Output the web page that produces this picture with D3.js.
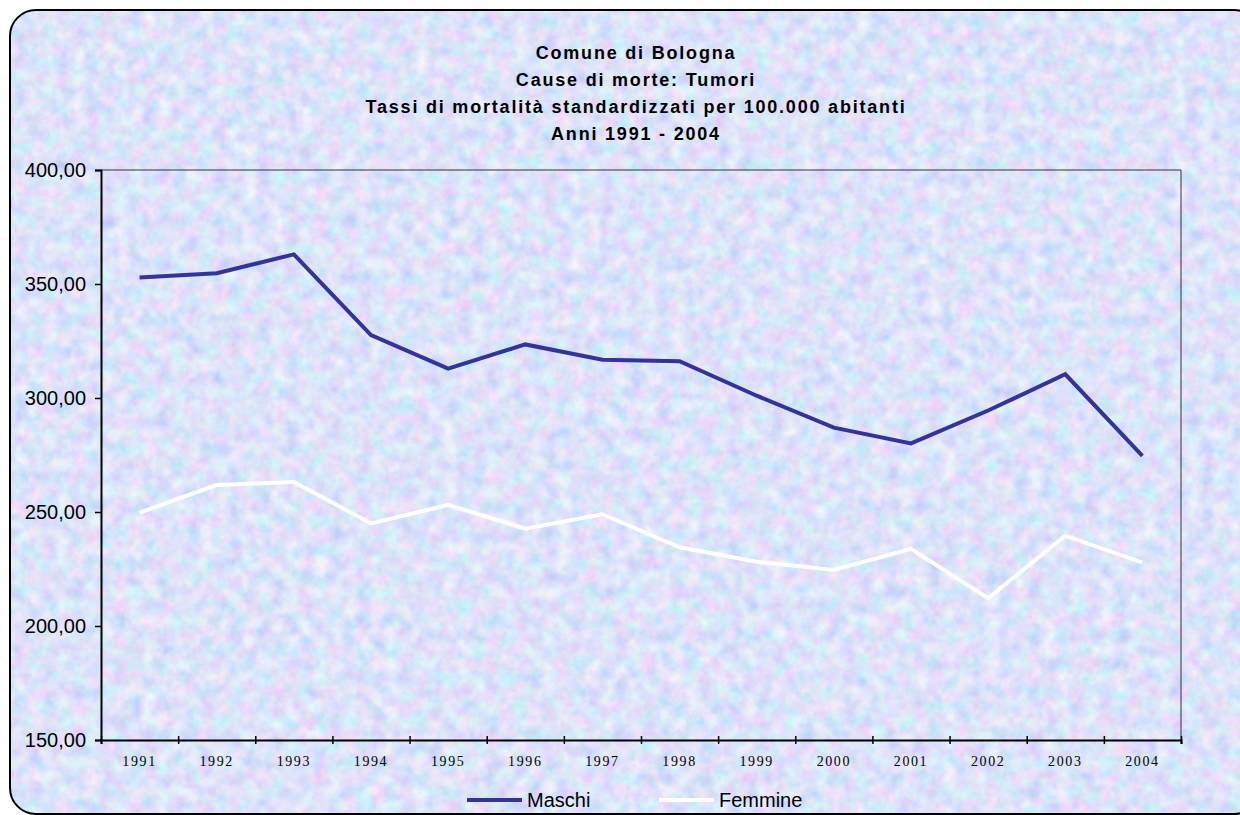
<!DOCTYPE html>
<html>
<head>
<meta charset="utf-8">
<script src="https://cdn.jsdelivr.net/npm/d3@7"></script>
<style>
  body { margin: 0; background: #ffffff; }
  .title { font-family: "Liberation Sans", Arial, sans-serif; font-weight: bold; font-size: 18px; fill: #000; letter-spacing: 1.8px; }
  .yAxis text { font-family: "Liberation Sans", Arial, sans-serif; font-size: 20px; fill: #000; }
  .xLabel { font-family: "Liberation Serif", "Times New Roman", serif; font-size: 14px; fill: #000; letter-spacing: 1.6px; }
  .legendText { font-family: "Liberation Sans", Arial, sans-serif; font-size: 20px; fill: #000; }
</style>
</head>
<body>
<script>
/* Chart data */
var years = ["1991", "1992", "1993", "1994", "1995", "1996", "1997",
             "1998", "1999", "2000", "2001", "2002", "2003", "2004"]
var maschi = [352.9, 354.7, 363.0, 327.6, 312.9, 323.5, 316.8,
              316.1, 301.0, 287.0, 280.1, 294.5, 310.4, 274.6]
var femmine = [249.7, 261.8, 263.2, 245.0, 253.1, 242.7, 249.0,
               234.5, 228.2, 224.6, 233.8, 212.2, 239.6, 227.8]
var seriesNames = ["Maschi", "Femmine"]
var seriesColors = ["#333399", "#ffffff"]
var yTicks = [150, 200, 250, 300, 350, 400]
var titleLines = ["Comune di Bologna",
                  "Cause di morte: Tumori",
                  "Tassi di mortalità standardizzati per 100.000 abitanti",
                  "Anni 1991 - 2004"]


function main()
{
  var vis = {
    width: 1240,
    height: 815,
    plot: {left: 101, right: 1181, top: 170, bottom: 740},
    scale: {}
  }

  var svg = d3.select("body")
    .append("svg")
    .attr("id", "chart")
    .attr("width", vis.width)
    .attr("height", vis.height)

  addBackground(vis, svg)
  initScales(vis)
  addTitle(vis, svg)
  addAxes(vis, svg)
  addLines(vis, svg)
  addLegend(vis, svg)
}


/* Marbled pastel paper texture inside a rounded frame */
function addBackground(vis, svg)
{
  var defs = svg.append("defs")

  var filter = defs.append("filter")
    .attr("id", "marble")
    .attr("x", 0).attr("y", 0)
    .attr("width", "100%").attr("height", "100%")
    .attr("filterUnits", "userSpaceOnUse")

  filter.append("feTurbulence")
    .attr("type", "fractalNoise")
    .attr("baseFrequency", 0.07)
    .attr("numOctaves", 3)
    .attr("seed", 7)
    .attr("result", "noise")

  // map the noise channels onto periwinkle / pink / pale cyan tints
  filter.append("feColorMatrix")
    .attr("in", "noise")
    .attr("type", "matrix")
    .attr("values",
          "0.62 0 0 0 0.41 " +
          "0.05 0.45 0 0 0.52 " +
          "0 0 0.12 0 0.89 " +
          "0 0 0 0 1")

  defs.append("clipPath")
    .attr("id", "frameClip")
    .append("rect")
    .attr("x", 10).attr("y", 10)
    .attr("width", 1250).attr("height", 804)
    .attr("rx", 26).attr("ry", 26)

  svg.append("rect")
    .attr("x", 0).attr("y", 0)
    .attr("width", vis.width).attr("height", vis.height)
    .attr("filter", "url(#marble)")
    .attr("clip-path", "url(#frameClip)")

  svg.append("rect")
    .attr("x", 10).attr("y", 10)
    .attr("width", 1250).attr("height", 804)
    .attr("rx", 26).attr("ry", 26)
    .attr("fill", "none")
    .attr("stroke", "#000")
    .attr("stroke-width", 2)
}


function initScales(vis)
{
  vis.scale.x = d3.scaleBand()
    .domain(years)
    .range([vis.plot.left, vis.plot.right])

  // boundaries between the year bands, used for the tick marks
  vis.scale.xEdge = d3.scaleLinear()
    .domain([0, years.length])
    .range([vis.plot.left, vis.plot.right])

  vis.scale.y = d3.scaleLinear()
    .domain([150, 400])
    .range([vis.plot.bottom, vis.plot.top])
}


function addTitle(vis, svg)
{
  svg.append("g")
    .attr("id", "title")
    .selectAll("text")
    .data(titleLines)
    .enter()
    .append("text")
    .attr("class", "title")
    .attr("x", 636)
    .attr("y", function(d, i) { return 59 + i * 27 })
    .attr("text-anchor", "middle")
    .text(function(d) { return d })
}


function addAxes(vis, svg)
{
  var p = vis.plot

  /* thin frame on the top and right sides of the plot area */
  svg.append("path")
    .attr("d", "M" + p.left + "," + p.top + "H" + p.right + "V" + p.bottom)
    .attr("fill", "none")
    .attr("stroke", "#333")
    .attr("stroke-width", 1)

  var yAxis = d3.axisLeft(vis.scale.y)
    .tickValues(yTicks)
    .tickSize(6)
    .tickPadding(9)
    .tickFormat(function(d) { return d3.format(".2f")(d).replace(".", ",") })

  var gy = svg.append("g")
    .attr("class", "yAxis")
    .attr("transform", "translate(" + p.left + ",0)")
    .call(yAxis)
  gy.select(".domain").attr("stroke", "#000").attr("stroke-width", 2)
  gy.selectAll(".tick line").attr("stroke", "#000").attr("stroke-width", 1.5)
  gy.selectAll("text").attr("font-family", null).attr("font-size", null)

  /* tick marks crossing the x axis at the band edges */
  var xTicks = d3.axisBottom(vis.scale.xEdge)
    .tickValues(d3.range(years.length + 1))
    .tickSize(4)
    .tickFormat("")

  var gx = svg.append("g")
    .attr("class", "xAxis")
    .attr("transform", "translate(0," + p.bottom + ")")
    .call(xTicks)
  gx.select(".domain").attr("stroke", "#000").attr("stroke-width", 2)
  gx.selectAll(".tick line")
    .attr("y1", -4)
    .attr("stroke", "#000")
    .attr("stroke-width", 1.5)

  /* year labels centred in each band */
  svg.append("g")
    .attr("id", "xLabels")
    .selectAll("text")
    .data(years)
    .enter()
    .append("text")
    .attr("class", "xLabel")
    .attr("x", function(d) { return vis.scale.x(d) + vis.scale.x.bandwidth() / 2 })
    .attr("y", 766)
    .attr("text-anchor", "middle")
    .text(function(d) { return d })
}


function addLines(vis, svg)
{
  var line = d3.line()
    .x(function(d, i) { return vis.scale.x(years[i]) + vis.scale.x.bandwidth() / 2 })
    .y(function(d) { return vis.scale.y(d) })

  svg.append("g")
    .attr("id", "lines")
    .selectAll("path")
    .data([maschi, femmine])
    .enter()
    .append("path")
    .attr("d", line)
    .attr("fill", "none")
    .attr("stroke", function(d, i) { return seriesColors[i] })
    .attr("stroke-width", 4)
    .attr("stroke-linejoin", "miter")
}


function addLegend(vis, svg)
{
  var legend = svg.append("g")
    .attr("id", "legend")

  var items = legend.selectAll("g")
    .data(seriesNames)
    .enter()
    .append("g")
    .attr("transform", function(d, i) { return "translate(" + (467 + i * 192) + ",800)" })

  items.append("line")
    .attr("x1", 0).attr("x2", 55)
    .attr("y1", 0).attr("y2", 0)
    .attr("stroke", function(d, i) { return seriesColors[i] })
    .attr("stroke-width", 4)

  items.append("text")
    .attr("class", "legendText")
    .attr("x", 60)
    .attr("y", 7)
    .text(function(d) { return d })
}

main()
</script>
</body>
</html>
